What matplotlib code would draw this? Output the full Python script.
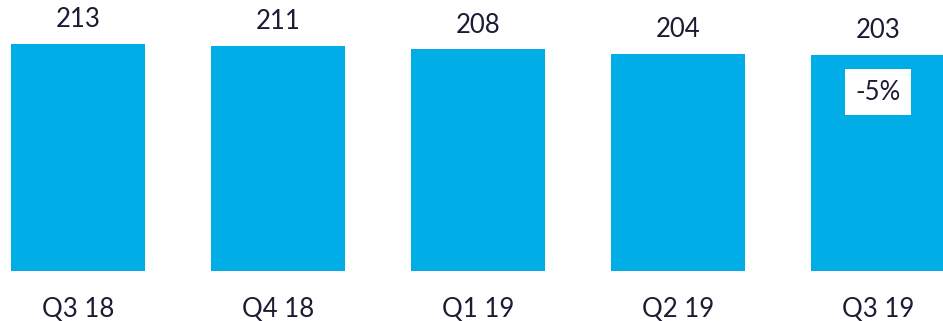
import matplotlib
matplotlib.use("Agg")
import matplotlib.pyplot as plt

# === DATA ===
quarters = ["Q3 18", "Q4 18", "Q1 19", "Q2 19", "Q3 19"]
values = [213, 211, 208, 204, 203]
change_label = "-5%"

# === STYLE ===
BAR_COLOR = "#00ADE6"
TEXT_COLOR = "#1B1B33"
FONT = "Lato"
FS = 18.5

plt.rcParams["font.family"] = [FONT, "DejaVu Sans"]

W, H, DPI = 943, 321, 100
fig = plt.figure(figsize=(W / DPI, H / DPI), dpi=DPI)
ax = fig.add_axes([0, 50 / H, 1, (H - 50) / H])

x = list(range(len(quarters)))
ax.bar(x, values, width=0.67, color=BAR_COLOR)

ax.set_xlim(-0.39, -0.39 + W / 200)
ax.set_ylim(0, (H - 50) / 1.0657)

# value labels on top of bars
for xi, v in zip(x, values):
    ax.annotate(str(v), (xi, v), xytext=(0, 17.5), textcoords="offset points",
                ha="center", va="center", fontsize=FS, color=TEXT_COLOR)

# change box inside the last bar
ax.annotate(change_label, (x[-1], values[-1]), xytext=(0, -27), textcoords="offset points",
            ha="center", va="center", fontsize=FS, color=TEXT_COLOR,
            bbox=dict(boxstyle="square,pad=0.4", fc="white", ec="none"))

ax.set_xticks(x)
ax.set_xticklabels(quarters, fontsize=FS, color=TEXT_COLOR)
ax.tick_params(axis="x", length=0, pad=19)
ax.set_yticks([])
for s in ax.spines.values():
    s.set_visible(False)

fig.savefig("out.png", dpi=DPI)
